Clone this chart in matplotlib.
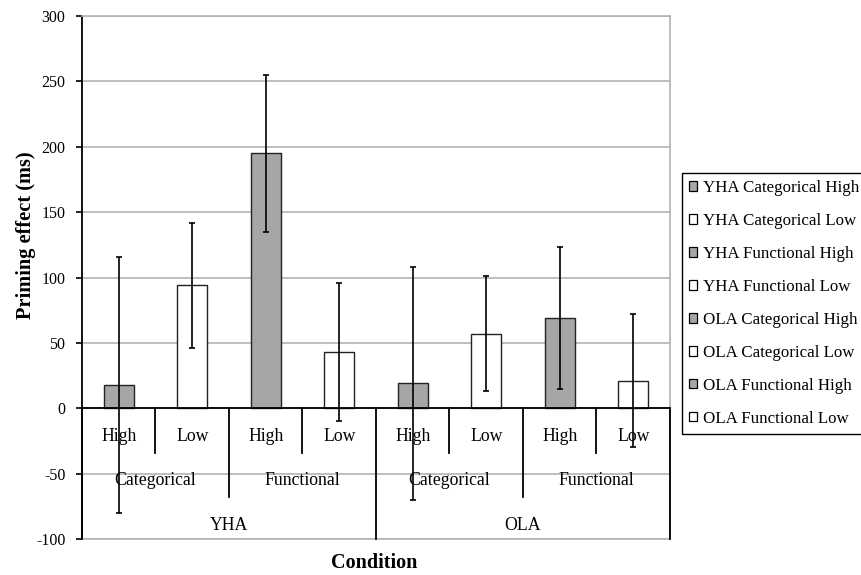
import matplotlib.pyplot as plt
from matplotlib.patches import Patch

plt.rcParams['font.family'] = ['Liberation Serif', 'DejaVu Serif']

# Condition hierarchy for the eight bars (age group > relation > association level)
groups = ["YHA", "YHA", "YHA", "YHA", "OLA", "OLA", "OLA", "OLA"]
relations = ["Categorical", "Categorical", "Functional", "Functional",
             "Categorical", "Categorical", "Functional", "Functional"]
levels = ["High", "Low", "High", "Low", "High", "Low", "High", "Low"]

# Mean priming effect (ms) and error-bar half-width (ms)
effect = [18, 94, 195, 43, 19, 57, 69, 21]
error = [98, 48, 60, 53, 89, 44, 54, 51]

series_names = [f"{g} {r} {l}" for g, r, l in zip(groups, relations, levels)]
yticks = list(range(-100, 301, 50))

HIGH_FILL = "#a6a6a6"
LOW_FILL = "#ffffff"
GRID = "#b3b3b3"
fills = [HIGH_FILL if l == "High" else LOW_FILL for l in levels]

fig = plt.figure(figsize=(8.62, 5.75), dpi=100)
ax = fig.add_axes([82 / 862, 1 - 539 / 575, 588 / 862, 523 / 575])

x = list(range(len(effect)))
ax.set_xlim(-0.5, len(effect) - 0.5)
ax.set_ylim(yticks[0], yticks[-1])
ax.set_yticks(yticks)
ax.set_yticklabels([str(t) for t in yticks], fontsize=11.5)
ax.set_xticks([])
ax.yaxis.grid(True, color=GRID, lw=1.2)
ax.set_axisbelow(True)
ax.tick_params(axis='y', direction='out', length=4, width=1.2, pad=8, color='black')

for side in ('top', 'right', 'bottom'):
    ax.spines[side].set_color(GRID)
    ax.spines[side].set_linewidth(1.2)
ax.spines['left'].set_color('black')
ax.spines['left'].set_linewidth(1.3)

ax.bar(x, effect, width=0.41, color=fills, edgecolor='#222222', linewidth=1.0, zorder=3)
ax.axhline(0, color='black', lw=1.3, zorder=4)
ax.errorbar(x, effect, yerr=error, fmt='none', ecolor='black', elinewidth=1.2,
            capsize=2.5, capthick=1.2, zorder=6)

# Multi-level category axis hanging below the zero line
LEVEL1_DEPTH, LEVEL2_DEPTH, LEVEL3_DEPTH = -34, -68, -100
n = len(effect)
for k in range(n + 1):
    b = k - 0.5
    if k == 0 or k == n or groups[k - 1] != groups[k]:
        depth = LEVEL3_DEPTH
    elif relations[k - 1] != relations[k]:
        depth = LEVEL2_DEPTH
    else:
        depth = LEVEL1_DEPTH
    ax.plot([b, b], [0, depth], color='black', lw=1.3, zorder=5, clip_on=False)

label_fs = 12.8
for i, l in enumerate(levels):
    ax.text(i, -21.5, l, ha='center', va='center', fontsize=label_fs, zorder=4)

def spans(keys):
    out = []
    start = 0
    for k in range(1, len(keys) + 1):
        if k == len(keys) or keys[k] != keys[start]:
            out.append((start, k - 1))
            start = k
    return out

for a, b in spans(list(zip(groups, relations))):
    ax.text((a + b) / 2, -55.5, relations[a], ha='center', va='center', fontsize=label_fs, zorder=4)
for a, b in spans(groups):
    ax.text((a + b) / 2, -90, groups[a], ha='center', va='center', fontsize=label_fs, zorder=4)

fig.text(26 / 862, 1 - 235 / 575, "Priming effect (ms)", rotation=90, ha='center',
         va='center', fontsize=14.7, fontweight='bold')
fig.text(374 / 862, 1 - 568.5 / 575, "Condition", ha='center', va='baseline',
         fontsize=14.5, fontweight='bold')

handles = [Patch(facecolor=c, edgecolor='black', linewidth=0.9) for c in fills]
leg = fig.legend(handles, series_names, loc='upper left',
                 bbox_to_anchor=(682 / 862, 1 - 173 / 575), frameon=True, fancybox=False,
                 edgecolor='black', framealpha=1, fontsize=12.2, handlelength=0.48,
                 handleheight=0.48, handletextpad=0.33, labelspacing=1.0,
                 borderpad=0.42, borderaxespad=0)
leg.get_frame().set_linewidth(1.0)

fig.savefig("out.png", dpi=100)
